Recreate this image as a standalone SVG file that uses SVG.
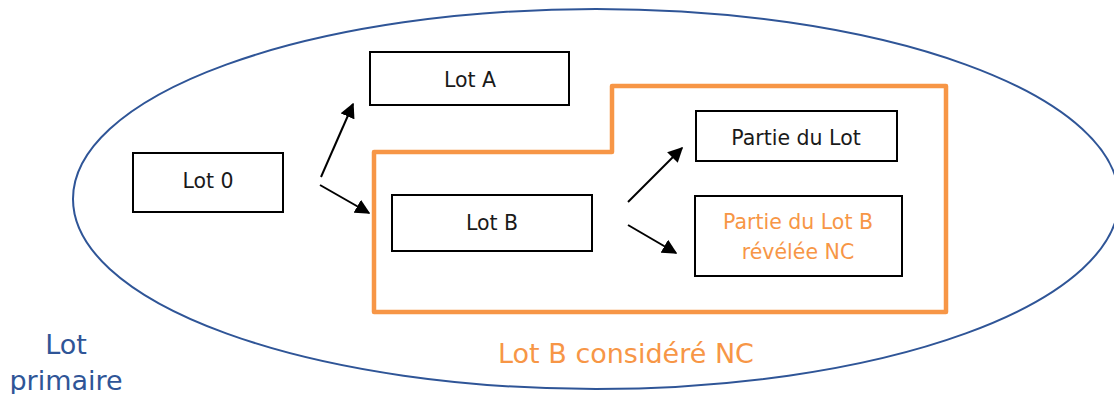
<svg xmlns="http://www.w3.org/2000/svg" width="1114" height="394" viewBox="0 0 1114 394">
  <style>
    .box { fill: #ffffff; stroke: #000000; stroke-width: 2; }
    .lbl { font-family: "DejaVu Sans", "Noto Sans", "Liberation Sans", sans-serif; font-size: 20.5px; fill: #1a1a1a; text-anchor: middle; }
    .orange { fill: #F79646; }
    .blue { fill: #2F5597; }
    .big { font-family: "DejaVu Sans", "Noto Sans", "Liberation Sans", sans-serif; font-size: 27px; text-anchor: middle; }
    .edge { stroke: #000000; stroke-width: 2; fill: none; marker-end: url(#arrow); }
  </style>
  <defs>
    <marker id="arrow" viewBox="0 0 10 10" refX="9" refY="5" markerWidth="7.5" markerHeight="7.5" markerUnits="strokeWidth" orient="auto">
      <path d="M0,0 L10,5 L0,10 Z" fill="#000000"/>
    </marker>
  </defs>

  <rect width="1114" height="394" fill="#ffffff"/>

  <!-- primary lot boundary -->
  <g id="lot-primaire">
    <ellipse cx="596" cy="199" rx="523" ry="190" fill="none" stroke="#2F5597" stroke-width="2"/>
    <text class="big blue" x="66" y="354">Lot</text>
    <text class="big blue" x="66" y="390">primaire</text>
  </g>

  <!-- non-conforming region around lot B -->
  <g id="zone-nc">
    <path d="M374,152 H612 V86 H946 V312 H374 Z" fill="none" stroke="#F79646" stroke-width="4.5" stroke-linejoin="round"/>
    <text class="big orange" x="626" y="363">Lot B considéré NC</text>
  </g>

  <g id="lot-0">
    <rect class="box" x="133" y="153" width="150" height="59"/>
    <text class="lbl" x="208" y="188">Lot 0</text>
  </g>

  <g id="lot-a">
    <rect class="box" x="370" y="52" width="199" height="53"/>
    <text class="lbl" x="470" y="87">Lot A</text>
  </g>

  <g id="lot-b">
    <rect class="box" x="392" y="195" width="200" height="56"/>
    <text class="lbl" x="492" y="230">Lot B</text>
  </g>

  <g id="partie-lot">
    <rect class="box" x="696" y="111" width="201" height="50"/>
    <text class="lbl" x="796" y="145">Partie du Lot</text>
  </g>

  <g id="partie-lot-b-nc">
    <rect class="box" x="695" y="196" width="207" height="80"/>
    <text class="lbl orange" x="798" y="229">Partie du Lot B</text>
    <text class="lbl orange" x="798" y="259">révélée NC</text>
  </g>

  <g id="connectors">
    <line class="edge" x1="321" y1="177" x2="353" y2="104"/>
    <line class="edge" x1="320" y1="185" x2="369" y2="213"/>
    <line class="edge" x1="628" y1="202" x2="682" y2="148"/>
    <line class="edge" x1="628" y1="225" x2="676" y2="253"/>
  </g>
</svg>
